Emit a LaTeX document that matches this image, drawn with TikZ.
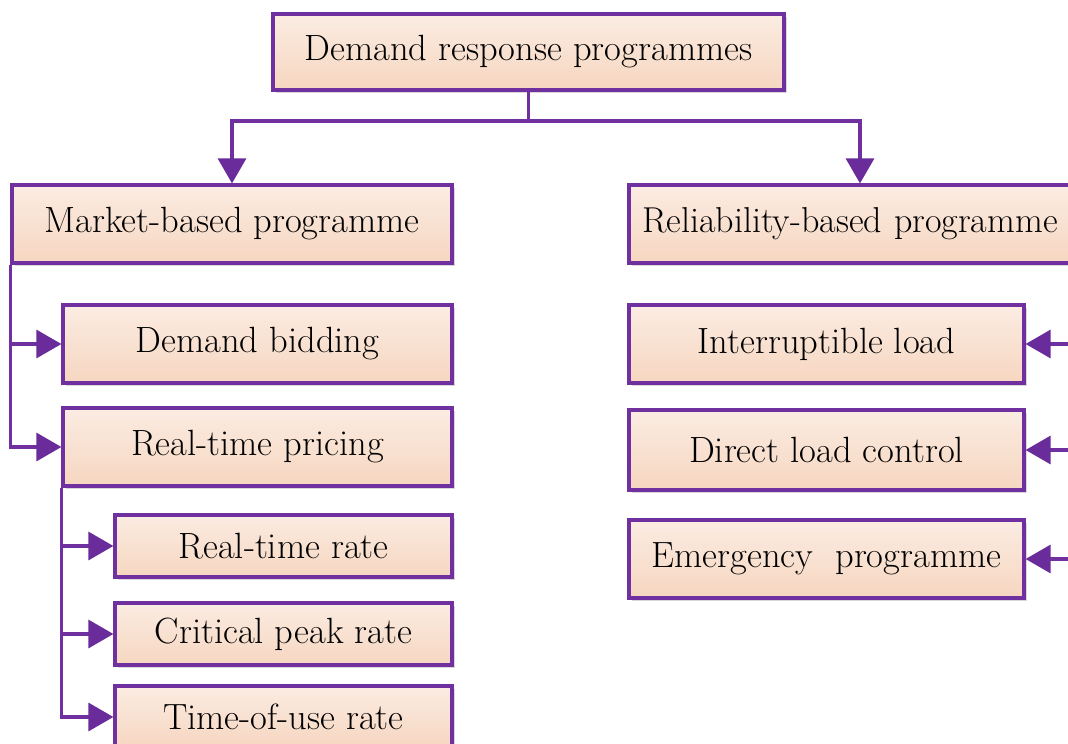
\documentclass[tikz,border=0pt]{standalone}
\usetikzlibrary{arrows.meta,shadows}
\definecolor{boxline}{RGB}{112,48,160}
\definecolor{arrowfill}{RGB}{106,44,154}
\definecolor{peachtop}{RGB}{251,236,226}
\definecolor{peachbot}{RGB}{246,214,192}
\tikzset{
  prog/.style={draw=boxline, line width=3.2pt, top color=peachtop, bottom color=peachbot,
    inner sep=0pt, font=\fontsize{36.5}{42}\selectfont,
    drop shadow={shadow xshift=3pt, shadow yshift=-3pt, fill=black!25, opacity=.6}},
  link/.style={draw=boxline, line width=3.2pt},
  arr/.style={link, -{Triangle[length=25pt,width=28pt,fill=arrowfill,color=arrowfill]}}
}
\begin{document}
\begin{tikzpicture}[x=1pt,y=-1pt]
\useasboundingbox (0,0) rectangle (1068,744);
\clip (0,0) rectangle (1068,744);
\fill[white] (0,0) rectangle (1068,744);

% top level
\node[prog, minimum width=511pt, minimum height=76pt] (drp) at (528.5,52) {Demand response programmes};

% second level
\node[prog, minimum width=440pt, minimum height=78pt] (mkt) at (232,224) {Market-based programme};
\node[prog, minimum height=78pt, inner xsep=13pt, text width=436pt, align=left,
      font=\fontsize{36}{42}\selectfont] (rel) at (860,224) {Reliability-based programme};

% market-based branch
\node[prog, minimum width=389pt, minimum height=78pt] (bid) at (257.5,344) {Demand bidding};
\node[prog, minimum width=389pt, minimum height=78pt] (rtp) at (257.5,447) {Real-time pricing};
\node[prog, minimum width=337pt, minimum height=62pt] (rtr) at (283.5,546) {Real-time rate};
\node[prog, minimum width=337pt, minimum height=62pt] (cpr) at (283.5,634) {Critical peak rate};
\node[prog, minimum width=337pt, minimum height=62pt] (tou) at (283.5,717) {Time-of-use rate};

% reliability-based branch
\node[prog, minimum width=395pt, minimum height=78pt] (il)  at (826.5,344) {Interruptible load};
\node[prog, minimum width=395pt, minimum height=80pt] (dlc) at (826.5,450) {Direct load control};
\node[prog, minimum width=395pt, minimum height=78pt] (ep)  at (826.5,559) {Emergency\ \ programme};

% connectors
\coordinate (split) at (528.5,121);
\draw[link] (drp.south) -- (split);
\draw[arr] (split) -| (mkt.north);
\draw[arr] (split) -| (rel.north);

\draw[arr] (mkt.south west) |- (bid.west);
\draw[arr] (mkt.south west) |- (rtp.west);

\draw[arr] (rtp.south west) |- (rtr.west);
\draw[arr] (rtp.south west) |- (cpr.west);
\draw[arr] (rtp.south west) |- (tou.west);

\draw[arr] (rel.south east) |- (il.east);
\draw[arr] (rel.south east) |- (dlc.east);
\draw[arr] (rel.south east) |- (ep.east);
\end{tikzpicture}
\end{document}
